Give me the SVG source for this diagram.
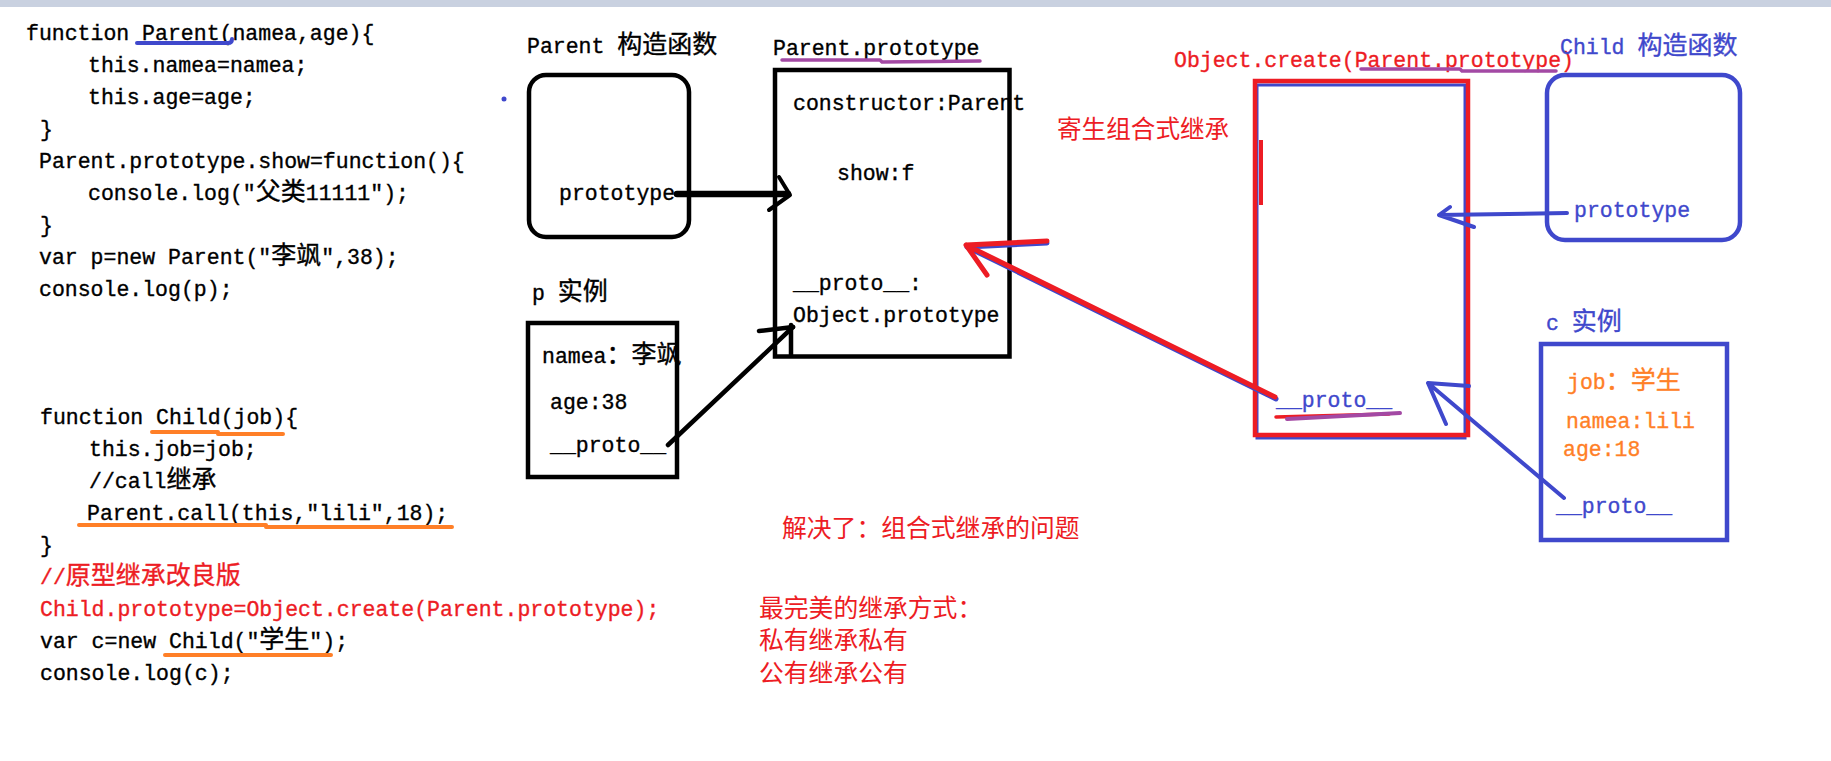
<svg xmlns="http://www.w3.org/2000/svg" width="1831" height="761" viewBox="0 0 1831 761">
<style>
.m{font-family:"Liberation Mono","Noto Sans CJK SC",monospace;font-size:21.5px;fill:#000;stroke:#000;stroke-width:0.35}
.c{font-family:"Noto Sans CJK SC",sans-serif;font-size:25px}
.n{font-family:"Noto Sans CJK SC",sans-serif;font-size:24.8px;fill:#ed1c24}
.red{fill:#ed1c24;stroke:#ed1c24}
.blue{fill:#3f48cc;stroke:#3f48cc}
.orange{fill:#ff7f27;stroke:#ff7f27}
.k{fill:none;stroke:#000;stroke-width:4.5}
.bb{fill:none;stroke:#3f48cc;stroke-width:4.5}
.rb{fill:none;stroke:#ed1c24;stroke-width:4.5}
.ln{fill:none;stroke-linecap:round;stroke-linejoin:round}
</style>
<rect x="0" y="0" width="1831" height="761" fill="#fff"/>
<rect x="0" y="0" width="1831" height="7" fill="#c9d1e0"/>

<g id="code-parent">
<text class="m" x="26" y="40">function Parent(namea,age){</text>
<text class="m" x="88" y="72">this.namea=namea;</text>
<text class="m" x="88" y="104">this.age=age;</text>
<text class="m" x="40" y="136">}</text>
<text class="m" x="39" y="168">Parent.prototype.show=function(){</text>
<text class="m" x="88" y="200">console.log("<tspan class="c">父类</tspan>11111");</text>
<text class="m" x="40" y="232">}</text>
<text class="m" x="39" y="264">var p=new Parent("<tspan class="c">李飒</tspan>",38);</text>
<text class="m" x="39" y="296">console.log(p);</text>
<path class="ln" d="M137,43 L228,43 Q232,43 232,39" stroke="#3f48cc" stroke-width="4"/>
</g>

<g id="code-child">
<text class="m" x="40" y="424">function Child(job){</text>
<text class="m" x="89" y="456">this.job=job;</text>
<text class="m" x="89" y="488">//call<tspan class="c">继承</tspan></text>
<text class="m" x="87" y="520">Parent.call(this,"lili",18);</text>
<text class="m" x="40" y="552">}</text>
<text class="m red" x="40" y="584">//<tspan class="c">原型继承改良版</tspan></text>
<text class="m red" x="40" y="616">Child.prototype=Object.create(Parent.prototype);</text>
<text class="m" x="40" y="648">var c=new Child("<tspan class="c">学生</tspan>");</text>
<text class="m" x="40" y="680">console.log(c);</text>
<g class="ln" stroke="#ff7f27" stroke-width="4">
<path d="M152,432 L218,432 M218,434 L283,434"/>
<path d="M79,525 L266,525 M266,527 L452,527"/>
<path d="M165,655 L331,655"/>
</g>
</g>

<g id="parent-constructor">
<text class="m" x="527" y="53">Parent <tspan class="c">构造函数</tspan></text>
<rect class="k" x="529" y="75" width="160" height="162" rx="17"/>
<text class="m" x="559" y="200">prototype</text>
</g>

<g id="parent-prototype">
<text class="m" x="773" y="55">Parent.prototype</text>
<path class="ln" d="M782,60 L880,60 L882,62 L980,61" stroke="#a349a4" stroke-width="3.5"/>
<rect class="k" x="775" y="70" width="234.5" height="286.5"/>
<text class="m" x="793" y="110">constructor:Parent</text>
<text class="m" x="837" y="180">show:f</text>
<text class="m" x="793" y="290">__proto__:</text>
<text class="m" x="793" y="322">Object.prototype</text>
</g>

<g id="p-instance">
<text class="m" x="532" y="300">p <tspan class="c">实例</tspan></text>
<rect class="k" x="528" y="323" width="149" height="154"/>
<text class="m" x="542" y="363">namea<tspan class="c">：李飒</tspan></text>
<text class="m" x="550" y="409">age:38</text>
<text class="m" x="550" y="452">__proto__</text>
</g>

<g id="object-create">
<text class="m red" x="1174" y="67">Object.create(Parent.prototype)</text>
<path class="ln" d="M1361,69 L1460,69 L1462,71 L1556,71" stroke="#a349a4" stroke-width="3.5"/>
<text class="n" x="1057" y="138" style="font-size:24.6px">寄生组合式继承</text>
<rect x="1257" y="85" width="208" height="353" fill="none" stroke="#3f48cc" stroke-width="3"/>
<rect class="rb" x="1255" y="81" width="213" height="354"/>
<rect x="1259" y="140" width="4" height="65" fill="#ed1c24"/>
<text class="m blue" x="1276" y="407">__proto__</text>
<path class="ln" d="M1276,417 L1389,414" stroke="#ed1c24" stroke-width="3.5"/>
<path class="ln" d="M1287,419 L1400,413" stroke="#a349a4" stroke-width="4"/>
</g>

<g id="child-constructor">
<text class="m blue" x="1560" y="54">Child <tspan class="c">构造函数</tspan></text>
<rect class="bb" x="1547" y="75" width="193" height="165" rx="18"/>
<text class="m blue" x="1574" y="217">prototype</text>
</g>

<g id="c-instance">
<text class="m blue" x="1546" y="330">c <tspan class="c">实例</tspan></text>
<rect class="bb" x="1541" y="344" width="186" height="196"/>
<text class="m orange" x="1567" y="389">job<tspan class="c">：学生</tspan></text>
<text class="m orange" x="1566" y="428">namea:lili</text>
<text class="m orange" x="1563" y="456">age:18</text>
<text class="m blue" x="1556" y="513">__proto__</text>
</g>

<g id="notes">
<text class="n" x="782" y="537">解决了：组合式继承的问题</text>
<text class="n" x="759" y="617">最完美的继承方式：</text>
<text class="n" x="759" y="649">私有继承私有</text>
<text class="n" x="759" y="682">公有继承公有</text>
<circle cx="504" cy="99" r="2.5" fill="#3f48cc"/>
</g>

<g id="connectors" class="ln">
<path d="M677,194 L788,194" stroke="#000" stroke-width="6.5"/>
<path d="M779,177 L790,195 L769,210" stroke="#000" stroke-width="4"/>
<path d="M668,445 L793,327" stroke="#000" stroke-width="4.5"/>
<path d="M759,331 L793,327 M791,325 L791,355" stroke="#000" stroke-width="4.5"/>
<path d="M1276,399 L967,247 M967,247 L1047,243" stroke="#3f48cc" stroke-width="5"/>
<path d="M1275,397 L966,245 M966,245 L1047,241 M966,245 L987,275" stroke="#ed1c24" stroke-width="5"/>
<path d="M1567,213 L1439,215 M1450,207 L1439,215 L1474,227" stroke="#3f48cc" stroke-width="4"/>
<path d="M1564,498 L1428,383 M1428,383 L1469,386 M1428,383 L1446,424" stroke="#3f48cc" stroke-width="4"/>
</g>
</svg>
